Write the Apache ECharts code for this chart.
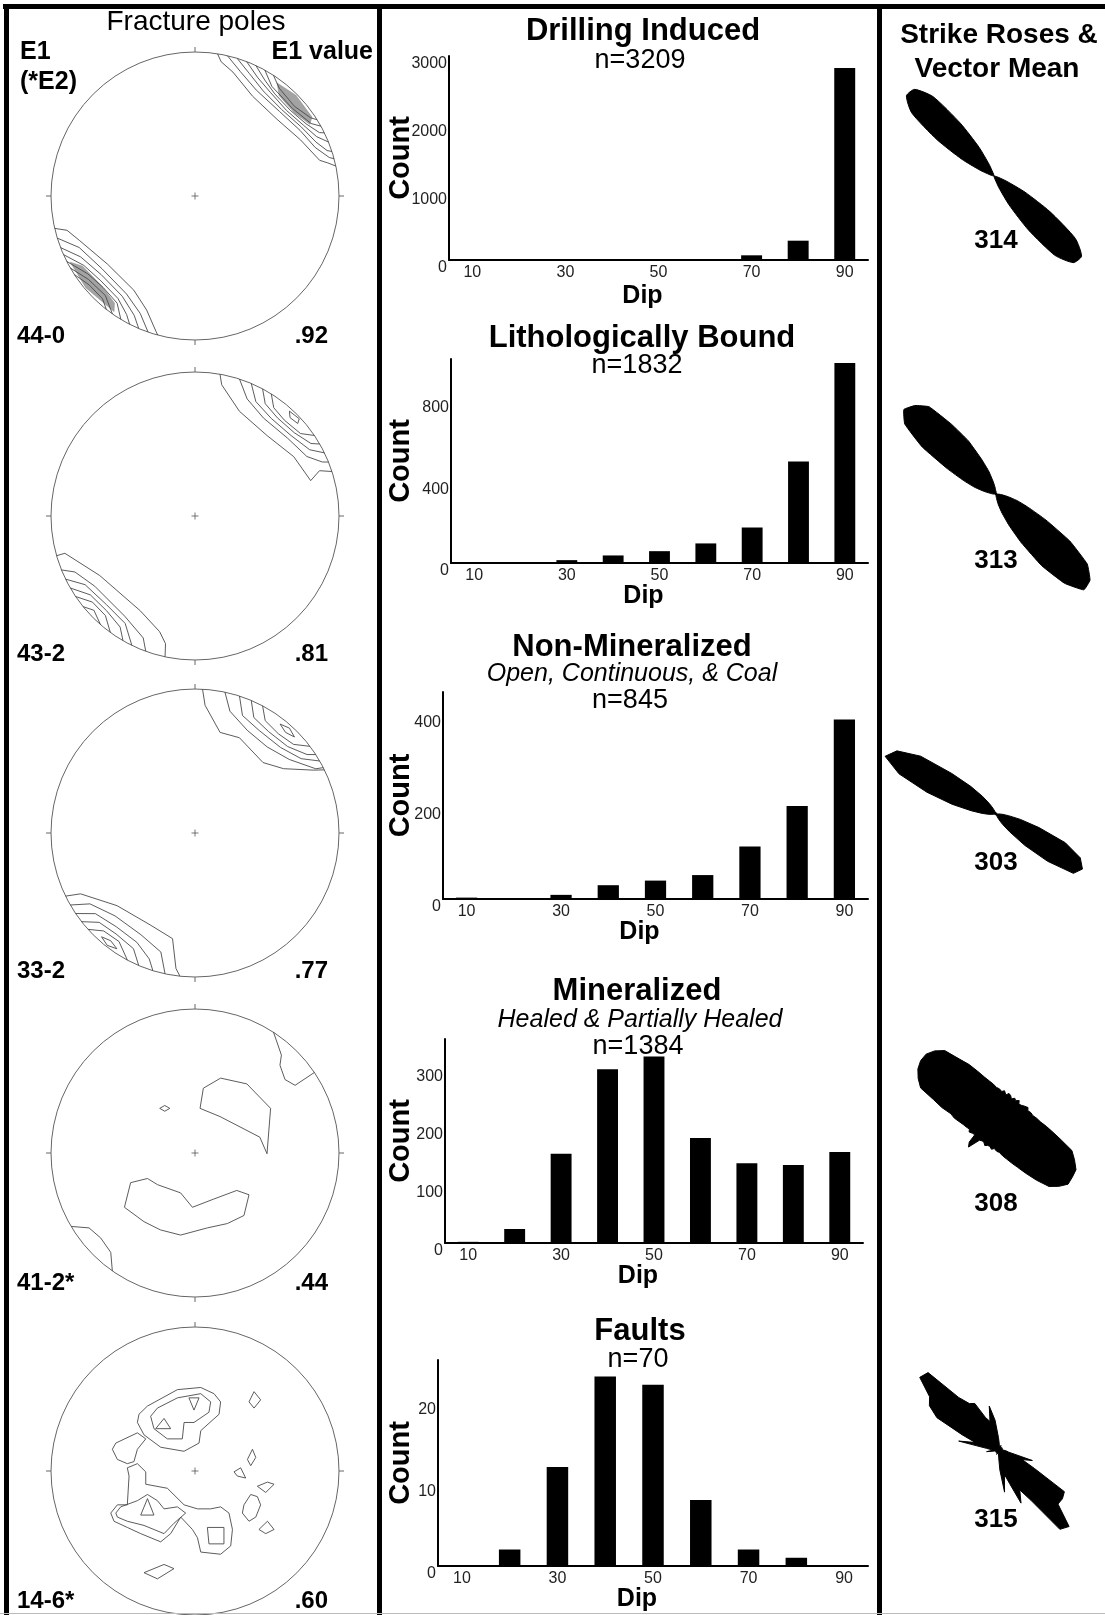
<!DOCTYPE html>
<html>
<head>
<meta charset="utf-8">
<title>Fracture summary</title>
<script src="https://cdn.jsdelivr.net/npm/echarts@6.0.0/dist/echarts.min.js"></script>
<style>
html, body { margin: 0; padding: 0; background: #fff; }
#main { width: 1105px; height: 1615px; }
</style>
</head>
<body>
<div id="main"></div>
<script>
// ---------- data ----------
var dipBins = ['10', '20', '30', '40', '50', '60', '70', '80', '90'];

var drillingCounts = [1, 1, 2, 3, 15, 10, 69, 284, 2824];
var lithCounts     = [0, 0, 14, 37, 58, 96, 174, 497, 980];
var nonMinCounts   = [3, 2, 9, 30, 40, 52, 114, 202, 390];
var minCounts      = [2, 24, 153, 298, 320, 180, 137, 134, 156];
var faultCounts    = [0, 2, 12, 23, 22, 8, 2, 1, 0];

var drillingTicks = [0, 1000, 2000, 3000];
var lithTicks     = [0, 400, 800];
var nonMinTicks   = [0, 200, 400];
var minTicks      = [0, 100, 200, 300];
var faultTicks    = [0, 10, 20];

// strike rose bins, 5 degrees each, azimuth from north clockwise
var strikeBins = [];
for (var b = 0; b < 360; b += 5) strikeBins.push(String(b));

var drillingRose = [
  0, 0, 0, 0, 0, 0, 0, 0, 0, 0, 0, 0,
  0, 0, 0, 0, 0, 0, 0, 0, 2, 4, 11, 28,
  53, 82, 95, 94, 80, 51, 26, 10, 3, 2, 0, 0,
  0, 0, 0, 0, 0, 0, 0, 0, 0, 0, 0, 0,
  0, 0, 0, 0, 0, 0, 0, 0, 2, 4, 12, 29,
  54, 83, 95, 94, 80, 50, 26, 10, 3, 2, 0, 0
];
var lithRose = [
  2, 1, 0, 0, 0, 0, 1, 0, 0, 0, 1, 0,
  0, 0, 0, 0, 0, 0, 2, 5, 10, 18, 28, 45,
  70, 92, 102, 104, 90, 68, 44, 27, 16, 9, 4, 2,
  1, 0, 0, 0, 0, 0, 1, 0, 0, 0, 1, 0,
  0, 0, 0, 0, 0, 2, 3, 5, 10, 18, 28, 44,
  70, 92, 100, 96, 88, 66, 48, 30, 19, 10, 5, 2
];
var nonMinRose = [
  1, 0, 0, 0, 0, 0, 1, 0, 0, 0, 0, 0,
  0, 0, 0, 0, 0, 2, 5, 10, 20, 36, 60, 76,
  82, 78, 56, 34, 18, 10, 5, 2, 0, 0, 1, 0,
  0, 0, 0, 0, 0, 0, 1, 0, 0, 0, 0, 0,
  0, 0, 0, 0, 2, 6, 11, 20, 36, 58, 84, 100,
  94, 76, 48, 30, 18, 10, 5, 2, 0, 0, 1, 0
];
var minRose = [
  25, 23, 24, 21, 23, 22, 20, 22, 21, 23, 21, 22,
  24, 26, 25, 27, 28, 31, 34, 39, 45, 53, 64, 69,
  74, 75, 76, 72, 67, 57, 48, 41, 36, 32, 29, 26,
  25, 23, 24, 22, 22, 23, 21, 21, 22, 32, 29, 22,
  23, 25, 24, 26, 28, 31, 35, 38, 46, 54, 67, 72,
  76, 78, 78, 75, 70, 58, 50, 42, 36, 32, 29, 26
];
var faultRose = [
  5, 2, 3, 2, 4, 2, 2, 3, 2, 2, 3, 2,
  2, 3, 2, 2, 3, 2, 4, 6, 8, 28, 20, 32,
  62, 64, 64, 83, 80, 48, 36, 46, 28, 20, 34, 16,
  6, 3, 2, 3, 2, 4, 2, 2, 3, 2, 2, 3,
  2, 3, 2, 4, 10, 5, 6, 10, 33, 20, 32, 56,
  66, 70, 86, 84, 53, 44, 42, 28, 24, 36, 24, 10
];
var roseMeans = ['314', '313', '303', '308', '315'];

// stereonet labels
var netE1 = ['44-0', '43-2', '33-2', '41-2*', '14-6*'];
var netE1Value = ['.92', '.81', '.77', '.44', '.60'];

// pole density contours, nets 1-3 as [azimuth, radius fraction]
var net1Lines = [
  [[9, 1], [11, 0.95], [17, 0.9], [30, 0.8], [47, 0.78], [62, 0.83], [74, 0.9], [76, 0.95], [78, 1]],
  [[13, 1], [20, 0.92], [30, 0.85], [45, 0.83], [58, 0.86], [68, 0.9], [74, 0.97], [75, 1]],
  [[17, 1], [24, 0.93], [33, 0.87], [45, 0.85], [57, 0.88], [66, 0.92], [71, 0.97], [72, 1]],
  [[21, 1], [28, 0.93], [36, 0.89], [47, 0.87], [57, 0.9], [64, 0.94], [68, 1]],
  [[25, 1], [31, 0.94], [38, 0.9], [48, 0.89], [57, 0.92], [63, 0.97], [64, 1]],
  [[29, 1], [35, 0.93], [48, 0.91], [58, 0.95], [61, 1]],
  [[33, 1], [38, 0.95], [48, 0.93], [56, 0.97], [58, 1]],
  [[257, 1], [255, 0.92], [249, 0.86], [232, 0.77], [213, 0.78], [203, 0.86], [196, 0.98], [195, 1]],
  [[253, 1], [246, 0.88], [232, 0.82], [215, 0.83], [205, 0.9], [199, 1]],
  [[249, 1], [242, 0.9], [230, 0.85], [216, 0.86], [207, 0.93], [203, 1]],
  [[246, 1], [238, 0.91], [228, 0.88], [217, 0.89], [210, 0.95], [207, 1]],
  [[243, 1], [234, 0.92], [225, 0.9], [216, 0.92], [211, 1]],
  [[240, 1], [232, 0.94], [222, 0.93], [215, 1]],
  [[237, 1], [230, 0.96], [222, 0.96], [218, 1]]
];
var net1Shade = [
  [[36, 0.97], [40, 0.91], [50, 0.9], [58, 0.94], [56, 0.98], [45, 0.99]],
  [[242, 0.98], [238, 0.92], [226, 0.9], [217, 0.93], [215, 0.98], [230, 0.99]]
];
var net2Lines = [
  [[10, 1], [11.5, 0.93], [23, 0.79], [42, 0.75], [59, 0.8], [73, 0.84], [70, 0.92], [72, 1]],
  [[18, 1], [24, 0.89], [35, 0.83], [50, 0.84], [62, 0.88], [67, 0.96], [68, 1]],
  [[23, 1], [28, 0.9], [38, 0.86], [50, 0.87], [60, 0.92], [64, 1]],
  [[28, 1], [32, 0.92], [40, 0.89], [50, 0.9], [58, 0.95], [60, 1]],
  [[32, 1], [36, 0.93], [43, 0.91], [52, 0.93], [56, 1]],
  [[42, 0.98], [44, 0.95], [48, 0.96], [47, 0.99], [42, 0.98]],
  [[254, 1], [254, 0.94], [238, 0.78], [210, 0.76], [197, 0.84], [193, 0.91], [192, 1]],
  [[248, 1], [245, 0.92], [235, 0.85], [215, 0.85], [203, 0.92], [200, 1]],
  [[244, 1], [238, 0.9], [225, 0.87], [213, 0.89], [206, 1]],
  [[240, 1], [233, 0.91], [223, 0.9], [214, 0.93], [210, 1]],
  [[236, 1], [230, 0.93], [222, 0.93], [216, 1]],
  [[231, 1], [227, 0.96], [221, 1]]
];
var net3Lines = [
  [[3, 1], [4.5, 0.89], [14, 0.72], [25, 0.73], [44, 0.68], [54, 0.76], [62, 0.93], [64, 1]],
  [[12, 1], [16, 0.88], [27, 0.8], [40, 0.78], [52, 0.83], [62, 0.95], [63, 1]],
  [[18, 1], [22, 0.88], [32, 0.84], [45, 0.84], [55, 0.9], [60, 1]],
  [[23, 1], [27, 0.9], [36, 0.87], [47, 0.88], [55, 0.95], [57, 1]],
  [[28, 1], [32, 0.92], [40, 0.9], [48, 0.92], [53, 1]],
  [[38, 0.96], [42, 0.94], [46, 0.96], [42, 0.98], [38, 0.96]],
  [[244, 1], [242, 0.9], [227, 0.74], [206, 0.71], [192, 0.75], [188, 0.95], [186, 1]],
  [[240, 1], [236, 0.88], [224, 0.8], [208, 0.8], [196, 0.86], [192, 1]],
  [[236, 1], [231, 0.89], [220, 0.85], [208, 0.86], [200, 0.93], [197, 1]],
  [[232, 1], [227, 0.91], [218, 0.89], [208, 0.91], [203, 1]],
  [[228, 1], [223, 0.93], [215, 0.92], [208, 1]],
  [[222, 0.97], [218, 0.95], [214, 0.97], [218, 0.99], [222, 0.97]]
];
// nets 4-5 as [x, y] in net radius units
var net4Lines = [
  [[0.545, 0.84], [0.60, 0.68], [0.59, 0.61], [0.625, 0.51], [0.695, 0.47], [0.83, 0.56]],
  [[0.058, 0.45], [0.035, 0.31], [0.174, 0.253], [0.45, 0.11], [0.50, -0.005], [0.525, 0.31], [0.36, 0.48], [0.178, 0.52], [0.058, 0.45]],
  [[-0.245, 0.31], [-0.21, 0.33], [-0.175, 0.31], [-0.21, 0.29], [-0.245, 0.31]],
  [[-0.49, -0.377], [-0.447, -0.206], [-0.33, -0.177], [-0.26, -0.22], [-0.10, -0.277], [-0.018, -0.377], [0.13, -0.32], [0.29, -0.26], [0.375, -0.29], [0.34, -0.434], [0.225, -0.49], [0.086, -0.52], [-0.10, -0.57], [-0.24, -0.534], [-0.354, -0.477], [-0.49, -0.377]],
  [[-0.86, -0.51], [-0.736, -0.52], [-0.655, -0.59], [-0.585, -0.69], [-0.574, -0.82]]
];
var net5Lines = [
  [[-0.389, 0.394], [-0.33, 0.451], [-0.122, 0.565], [0.04, 0.58], [0.132, 0.537], [0.178, 0.48], [0.167, 0.394], [0.04, 0.28], [0.028, 0.194], [-0.076, 0.137], [-0.238, 0.165], [-0.354, 0.251], [-0.40, 0.337], [-0.389, 0.394]],
  [[-0.308, 0.38], [-0.261, 0.437], [-0.122, 0.508], [0.04, 0.537], [0.109, 0.48], [0.097, 0.408], [-0.007, 0.337], [-0.076, 0.337], [-0.088, 0.223], [-0.192, 0.223], [-0.285, 0.294], [-0.308, 0.38]],
  [[-0.042, 0.508], [0.028, 0.508], [-0.007, 0.423], [-0.042, 0.508]],
  [[-0.273, 0.294], [-0.215, 0.365], [-0.169, 0.294], [-0.273, 0.294]],
  [[-0.574, 0.151], [-0.55, 0.194], [-0.40, 0.265], [-0.342, 0.223], [-0.40, 0.151], [-0.424, 0.065], [-0.47, 0.051], [-0.539, 0.08], [-0.574, 0.151]],
  [[-0.585, -0.292], [-0.539, -0.235], [-0.47, -0.235], [-0.458, -0.035], [-0.47, 0.022], [-0.40, 0.051], [-0.342, -0.006], [-0.342, -0.092], [-0.192, -0.12], [-0.076, -0.235], [0.017, -0.263], [0.109, -0.263], [0.178, -0.249], [0.236, -0.292], [0.26, -0.406], [0.248, -0.52], [0.178, -0.578], [0.04, -0.563], [0.017, -0.463], [-0.018, -0.406], [-0.099, -0.32], [-0.169, -0.435], [-0.238, -0.492], [-0.377, -0.435], [-0.47, -0.392], [-0.5625, -0.349], [-0.585, -0.292]],
  [[-0.55, -0.292], [-0.516, -0.249], [-0.40, -0.206], [-0.33, -0.163], [-0.261, -0.206], [-0.215, -0.263], [-0.122, -0.249], [-0.065, -0.292], [-0.146, -0.363], [-0.215, -0.435], [-0.354, -0.378], [-0.47, -0.349], [-0.539, -0.32], [-0.55, -0.292]],
  [[-0.377, -0.306], [-0.33, -0.192], [-0.285, -0.306], [-0.377, -0.306]],
  [[0.086, -0.392], [0.201, -0.392], [0.201, -0.506], [0.097, -0.506], [0.086, -0.392]],
  [[-0.354, -0.706], [-0.215, -0.649], [-0.146, -0.678], [-0.261, -0.749], [-0.354, -0.706]],
  [[0.375, 0.48], [0.41, 0.551], [0.456, 0.494], [0.41, 0.437], [0.375, 0.48]],
  [[0.364, 0.08], [0.399, 0.151], [0.422, 0.094], [0.387, 0.037], [0.364, 0.08]],
  [[0.271, -0.006], [0.317, 0.022], [0.352, -0.049], [0.294, -0.035], [0.271, -0.006]],
  [[0.433, -0.106], [0.503, -0.077], [0.549, -0.092], [0.491, -0.149], [0.433, -0.106]],
  [[0.34, -0.235], [0.387, -0.163], [0.433, -0.178], [0.456, -0.235], [0.422, -0.32], [0.375, -0.349], [0.329, -0.292], [0.34, -0.235]],
  [[0.444, -0.406], [0.503, -0.349], [0.549, -0.406], [0.491, -0.435], [0.444, -0.406]]
];

// ---------- layout ----------
var FONT = '"Liberation Sans", Arial, Helvetica, sans-serif';
var NET_R = 144;
var ROSE_R = 125;

var panels = [
  {title: 'Drilling Induced', sub: null, n: 'n=3209', values: drillingCounts, ticks: drillingTicks, max: 3000, interval: 1000,
    box: [449, 56, 419, 204], titlePos: [643, 31], subPos: null, nPos: [640, 61], dipGap: 24},
  {title: 'Lithologically Bound', sub: null, n: 'n=1832', values: lithCounts, ticks: lithTicks, max: 1000, interval: 400,
    box: [451, 359, 417, 204], titlePos: [642, 338], subPos: null, nPos: [637, 366], dipGap: 21},
  {title: 'Non-Mineralized', sub: 'Open, Continuous, & Coal', n: 'n=845', values: nonMinCounts, ticks: nonMinTicks, max: 450, interval: 200,
    box: [443, 692, 425, 207], titlePos: [632, 647], subPos: [632, 674], nPos: [630, 701], dipGap: 21},
  {title: 'Mineralized', sub: 'Healed & Partially Healed', n: 'n=1384', values: minCounts, ticks: minTicks, max: 350, interval: 100,
    box: [445, 1039, 418, 204], titlePos: [637, 991], subPos: [640, 1020], nPos: [638, 1047], dipGap: 21},
  {title: 'Faults', sub: null, n: 'n=70', values: faultCounts, ticks: faultTicks, max: 25, interval: 10,
    box: [438, 1360, 430, 206], titlePos: [640, 1331], subPos: null, nPos: [638, 1360], dipGap: 21}
];

var nets = [
  {cx: 195, cy: 196, polarLines: net1Lines, shade: net1Shade, labelY: 336},
  {cx: 195, cy: 516, polarLines: net2Lines, shade: [], labelY: 654},
  {cx: 195, cy: 833, polarLines: net3Lines, shade: [], labelY: 971},
  {cx: 195, cy: 1153, xyLines: net4Lines, labelY: 1283},
  {cx: 195, cy: 1471, xyLines: net5Lines, labelY: 1601}
];

var roses = [
  {cx: 994, cy: 176, values: drillingRose, smooth: 0.2, labelY: 241},
  {cx: 996, cy: 494, values: lithRose, smooth: 0.1, labelY: 561},
  {cx: 996, cy: 814, values: nonMinRose, smooth: 0, labelY: 863},
  {cx: 998, cy: 1120, values: minRose, smooth: 0, labelY: 1204},
  {cx: 999, cy: 1450, values: faultRose, smooth: 0, labelY: 1520}
];

function txt(x, y, s, size, weight, align, italic) {
  return {
    type: 'text', x: x, y: y, z: 100, silent: true,
    style: {
      text: s, fill: '#000', fontFamily: FONT, fontSize: size,
      fontWeight: weight || 'normal', fontStyle: italic ? 'italic' : 'normal',
      align: align || 'center', verticalAlign: 'middle',
      textAlign: align || 'center', textVerticalAlign: 'middle'
    }
  };
}

var option = {
  animation: false,
  backgroundColor: '#fff',
  grid: [], xAxis: [], yAxis: [],
  polar: [], angleAxis: [], radiusAxis: [],
  series: [],
  graphic: []
};

// ---------- dip histograms ----------
panels.forEach(function (p, i) {
  option.grid.push({left: p.box[0], top: p.box[1], width: p.box[2], height: p.box[3]});
  option.xAxis.push({
    gridIndex: i, type: 'category', data: dipBins,
    name: 'Dip', nameLocation: 'middle', nameGap: p.dipGap, nameMoveOverlap: false,
    nameTextStyle: {fontFamily: FONT, fontSize: 25, fontWeight: 'bold', color: '#000', padding: [0, 32, 0, 0]},
    axisLine: {show: true, lineStyle: {color: '#000', width: 2}},
    axisTick: {show: false},
    axisLabel: {interval: 1, margin: 5, fontFamily: FONT, fontSize: 16, color: '#222'}
  });
  option.yAxis.push({
    gridIndex: i, type: 'value', min: 0, max: p.max, interval: p.interval,
    name: 'Count', nameLocation: 'middle', nameRotate: 90, nameGap: p.box[0] - 415, nameMoveOverlap: false,
    nameTextStyle: {fontFamily: FONT, fontSize: 29, fontWeight: 'bold', color: '#000'},
    axisLine: {show: true, lineStyle: {color: '#000', width: 2}},
    axisTick: {show: false},
    splitLine: {show: false},
    axisLabel: {
      margin: 2, verticalAlign: 'top', fontFamily: FONT, fontSize: 16, color: '#222',
      formatter: function (v) { return p.ticks.indexOf(v) >= 0 ? String(v) : ''; }
    }
  });
  option.series.push({
    type: 'bar', xAxisIndex: i, yAxisIndex: i, data: p.values,
    barWidth: '45%', silent: true, itemStyle: {color: '#000'}
  });
  option.graphic.push(txt(p.titlePos[0], p.titlePos[1], p.title, 31, 'bold'));
  if (p.sub) option.graphic.push(txt(p.subPos[0], p.subPos[1], p.sub, 25, 'normal', 'center', true));
  option.graphic.push(txt(p.nPos[0], p.nPos[1], p.n, 27, 'normal'));
});

// ---------- stereonets ----------
function contourSeries(lines, shade, coord, idx) {
  var items = shade.map(function (s) { return {pts: s, fill: true}; })
    .concat(lines.map(function (l) { return {pts: l, fill: false}; }));
  var s = {
    type: 'custom', silent: true, clip: false,
    data: items.map(function () { return [0, 0]; }),
    renderItem: function (params, api) {
      var c = items[params.dataIndex];
      var pts = c.pts.map(function (q) {
        return api.coord(coord === 'polar' ? [q[1], q[0]] : q);
      });
      if (c.fill) {
        return {type: 'polygon', shape: {points: pts}, style: {fill: '#a3a3a3', stroke: '#888', lineWidth: 0.5}};
      }
      return {type: 'polyline', shape: {points: pts}, style: {fill: 'none', stroke: '#4a4a4a', lineWidth: 0.9}};
    }
  };
  if (coord === 'polar') { s.coordinateSystem = 'polar'; s.polarIndex = idx; }
  else { s.coordinateSystem = 'cartesian2d'; s.xAxisIndex = idx; s.yAxisIndex = idx; }
  return s;
}

nets.forEach(function (n, k) {
  var pi = option.polar.length;
  option.polar.push({center: [n.cx, n.cy], radius: NET_R});
  option.angleAxis.push({
    polarIndex: pi, type: 'value', min: 0, max: 360, interval: 90, startAngle: 90, clockwise: true,
    axisLine: {show: true, lineStyle: {color: '#666', width: 1}},
    axisTick: {show: true, length: 5, lineStyle: {color: '#666', width: 1}},
    axisLabel: {show: false}, splitLine: {show: false}, splitArea: {show: false}
  });
  option.radiusAxis.push({
    polarIndex: pi, type: 'value', min: 0, max: 1,
    axisLine: {show: false}, axisTick: {show: false}, axisLabel: {show: false},
    splitLine: {show: false}, splitArea: {show: false}
  });
  option.series.push({
    type: 'scatter', coordinateSystem: 'polar', polarIndex: pi, silent: true,
    data: [[0, 0]], symbol: 'path://M5,0L5,10M0,5L10,5', symbolSize: 7,
    itemStyle: {color: 'none', borderColor: '#555', borderWidth: 1}
  });
  if (n.polarLines) {
    option.series.push(contourSeries(n.polarLines, n.shade, 'polar', pi));
  } else {
    var gi = option.grid.length;
    option.grid.push({left: n.cx - NET_R, top: n.cy - NET_R, width: 2 * NET_R, height: 2 * NET_R});
    option.xAxis.push({gridIndex: gi, type: 'value', min: -1, max: 1, show: false});
    option.yAxis.push({gridIndex: gi, type: 'value', min: -1, max: 1, show: false});
    option.series.push(contourSeries(n.xyLines, [], 'xy', gi));
  }
  option.graphic.push(txt(17, n.labelY, netE1[k], 24, 'bold', 'left'));
  option.graphic.push(txt(328, n.labelY, netE1Value[k], 24, 'bold', 'right'));
});

// ---------- strike roses: closed outline through each bin centre ----------
roses.forEach(function (r, k) {
  var pi = option.polar.length;
  option.polar.push({center: [r.cx, r.cy], radius: ROSE_R});
  option.angleAxis.push({polarIndex: pi, type: 'value', min: 0, max: 360, startAngle: 90, clockwise: true, show: false});
  option.radiusAxis.push({polarIndex: pi, type: 'value', min: 0, max: 100, show: false});
  option.series.push({
    type: 'custom', coordinateSystem: 'polar', polarIndex: pi, silent: true, clip: false,
    data: [[0, 0]],
    renderItem: function (params, api) {
      var pts = r.values.map(function (v, i) {
        return api.coord([v, Number(strikeBins[i]) + 2.5]);
      });
      return {
        type: 'polygon', shape: {points: pts, smooth: r.smooth},
        style: {fill: '#000', stroke: '#000', lineWidth: 1}
      };
    }
  });
  option.graphic.push(txt(996, r.labelY, roseMeans[k], 26, 'bold'));
});

// ---------- headers and frame ----------
option.graphic.push(txt(196, 22, 'Fracture poles', 28, 'normal'));
option.graphic.push(txt(20, 52, 'E1', 25, 'bold', 'left'));
option.graphic.push(txt(20, 82, '(*E2)', 25, 'bold', 'left'));
option.graphic.push(txt(373, 52, 'E1 value', 25, 'bold', 'right'));
option.graphic.push(txt(999, 35, 'Strike Roses &', 28, 'bold'));
option.graphic.push(txt(997, 69, 'Vector Mean', 28, 'bold'));

[[3, 4, 1102, 5], [4, 4, 5, 1611], [377, 4, 5, 1611], [877, 4, 5, 1611]].forEach(function (r) {
  option.graphic.push({type: 'rect', silent: true, z: 90, shape: {x: r[0], y: r[1], width: r[2], height: r[3]}, style: {fill: '#000'}});
});
option.graphic.push({type: 'rect', silent: true, z: 90, shape: {x: 0, y: 1613, width: 1105, height: 1}, style: {fill: '#bbb'}});

var chart = echarts.init(document.getElementById('main'));
chart.setOption(option);
</script>
</body>
</html>
